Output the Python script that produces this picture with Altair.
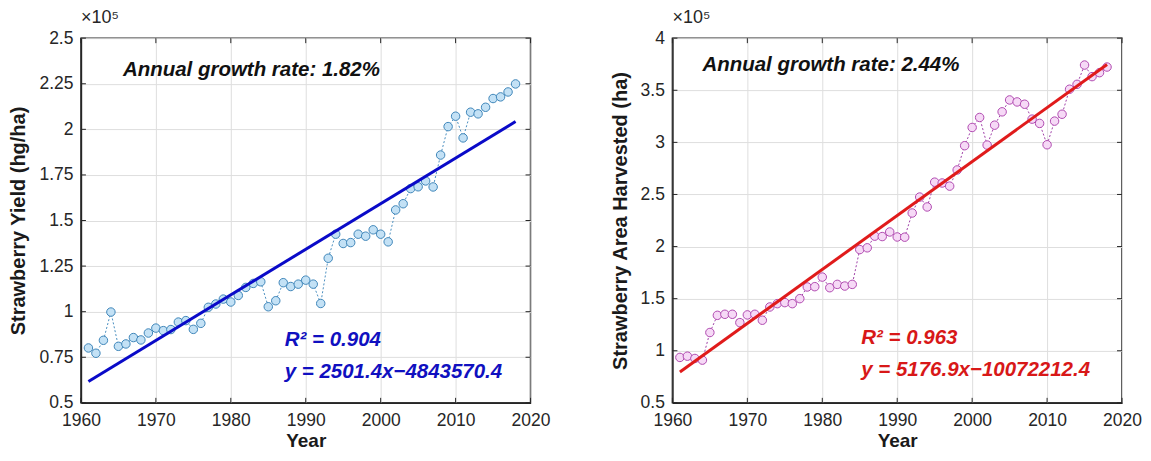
import altair as alt
import pandas as pd

# ---------------- data ----------------
years = list(range(1961, 2019))

yield_hg_ha = [
    80100, 77200, 84300, 99800, 81000, 82300, 85800, 84500, 88300, 91000,
    89600, 90200, 94300, 95100, 90300, 93600, 102400, 104200, 106900, 105300,
    108900, 113300, 115500, 116400, 102700, 106000, 115900, 113800, 115100, 117300,
    115100, 104500, 129300, 142500, 137400, 137900, 142500, 141400, 144900, 142500,
    138300, 155800, 159200, 167500, 168500, 171700, 168400, 185900, 201500, 207200,
    195300, 209400, 208500, 212100, 216900, 217800, 220500, 224900,
]

area_ha = [
    93600, 94800, 92600, 91000, 117500, 134000, 135000, 135000, 127000, 134400,
    135000, 129300, 142000, 145200, 146200, 145200, 150000, 161200, 161500, 170700,
    160500, 163700, 162100, 163700, 197100, 198800, 210000, 209600, 214000, 209200,
    209000, 232200, 247500, 238000, 261800, 261000, 258000, 273500, 296800, 314300,
    323900, 297400, 316500, 329300, 340700, 338800, 336600, 322300, 318200, 297700,
    320400, 327000, 351000, 355700, 374200, 363100, 366900, 372300,
]

# fitted lines (end points of the reported regressions)
fit_years = [1961, 2018]
fit_yield = [61675, 204255]
fit_area = [79689, 374772]

x_ticks = [1960, 1970, 1980, 1990, 2000, 2010, 2020]
yield_ticks = [50000, 75000, 100000, 125000, 150000, 175000, 200000, 225000, 250000]
area_ticks = [50000, 100000, 150000, 200000, 250000, 300000, 350000, 400000]

left_texts = ["Annual growth rate: 1.82%", "R² = 0.904", "y = 2501.4x\u22124843570.4"]
left_text_x = [1965.6, 1987.2, 1987.2]
left_text_y = [232500, 84300, 66800]

right_texts = ["Annual growth rate: 2.44%", "R² = 0.963", "y = 5176.9x\u221210072212.4"]
right_text_x = [1964.0, 1985.2, 1985.2]
right_text_y = [374000, 112700, 81200]

FONT = "Liberation Sans"
W, H = 450, 365
DARK = "#262626"


def panel(values, fit_vals, ytitle, ydomain, yticks, fill, edge, linecol, fitcol,
          texts, tx, ty, textcols):
    df = pd.DataFrame({"year": years, "val": values})
    fit = pd.DataFrame({"year": fit_years, "val": fit_vals})
    tdf = pd.DataFrame({"label": texts, "year": tx, "val": ty, "col": textcols})

    xs = alt.Scale(domain=[1960, 2020], nice=False, zero=False, padding=0)
    ys = alt.Scale(domain=ydomain, nice=False, zero=False, padding=0)

    xax = alt.Axis(values=x_ticks, format="d", grid=True, gridColor="#dedede",
                   gridWidth=1, domainColor=DARK, domainWidth=1.5, ticks=False,
                   labelFlush=False, labelOverlap=False,
                   labelFont=FONT, labelFontSize=17.5, labelColor=DARK, labelPadding=9,
                   title="Year", titleFont=FONT, titleFontSize=19, titleFontWeight="bold",
                   titleColor="#1a1a1a", titlePadding=2)
    yax = alt.Axis(values=yticks, labelExpr="format(datum.value / 100000, '~g')",
                   grid=True, gridColor="#dedede", gridWidth=1, domainColor=DARK,
                   domainWidth=1.5, ticks=False, labelFlush=False, labelOverlap=False,
                   labelFont=FONT, labelFontSize=17.5,
                   labelColor=DARK, labelPadding=8, title=ytitle, titleFont=FONT,
                   titleFontSize=20, titleFontWeight="bold", titleColor="#1a1a1a",
                   titlePadding=10)

    x = alt.X("year:Q", scale=xs, axis=xax)
    y = alt.Y("val:Q", scale=ys, axis=yax)

    conn = alt.Chart(df).mark_line(color=linecol, strokeWidth=1, strokeDash=[2, 2]).encode(
        x=x, y=y)
    pts = alt.Chart(df).mark_point(shape="circle", filled=True, size=72, fill=fill,
                                   stroke=edge, strokeWidth=1, opacity=1).encode(
        x=alt.X("year:Q", scale=xs), y=alt.Y("val:Q", scale=ys))
    fitline = alt.Chart(fit).mark_line(color=fitcol, strokeWidth=3).encode(
        x=alt.X("year:Q", scale=xs), y=alt.Y("val:Q", scale=ys))
    txt = alt.Chart(tdf).mark_text(font=FONT, fontSize=20.5, fontWeight="bold",
                                   fontStyle="italic", align="left",
                                   baseline="middle").encode(
        x=alt.X("year:Q", scale=xs), y=alt.Y("val:Q", scale=ys),
        text="label:N", color=alt.Color("col:N", scale=None))

    # inward tick marks (MATLAB style box)
    xt = pd.DataFrame({"year": x_ticks})
    yt = pd.DataFrame({"val": yticks})
    tk_b = alt.Chart(xt).mark_rule(color=DARK, strokeWidth=1).encode(
        x=alt.X("year:Q", scale=xs), y=alt.value(H), y2=alt.value(H - 5))
    tk_t = alt.Chart(xt).mark_rule(color=DARK, strokeWidth=1).encode(
        x=alt.X("year:Q", scale=xs), y=alt.value(0), y2=alt.value(5))
    tk_l = alt.Chart(yt).mark_rule(color=DARK, strokeWidth=1).encode(
        y=alt.Y("val:Q", scale=ys), x=alt.value(0), x2=alt.value(5))
    tk_r = alt.Chart(yt).mark_rule(color=DARK, strokeWidth=1).encode(
        y=alt.Y("val:Q", scale=ys), x=alt.value(W), x2=alt.value(W - 5))

    return alt.layer(conn, pts, fitline, txt, tk_b, tk_t, tk_l, tk_r).properties(
        width=W, height=H,
        title=alt.Title("×10⁵", anchor="start", frame="group", font=FONT, fontSize=18,
                        fontWeight="normal", color=DARK, offset=2),
    )


left = panel(yield_hg_ha, fit_yield, "Strawberry Yield (hg/ha)", [50000, 250000],
             yield_ticks, "#c3e1f5", "#3f86b9", "#4a8fc0", "#0a0ac8",
             left_texts, left_text_x, left_text_y, ["#111111", "#1010c0", "#1010c0"])
right = panel(area_ha, fit_area, "Strawberry  Area Harvested (ha)", [50000, 400000],
              area_ticks, "#f6d9f6", "#b04ab0", "#a040a8", "#e01b1b",
              right_texts, right_text_x, right_text_y, ["#111111", "#d81818", "#d81818"])

chart = alt.hconcat(left, right, spacing=142, bounds="flush").properties(
    padding={"left": 0, "top": 0, "right": 0, "bottom": 0}
).configure_view(stroke=DARK, strokeWidth=1.5)

chart.save("out.html", embed_options={"renderer": "svg", "actions": False})
